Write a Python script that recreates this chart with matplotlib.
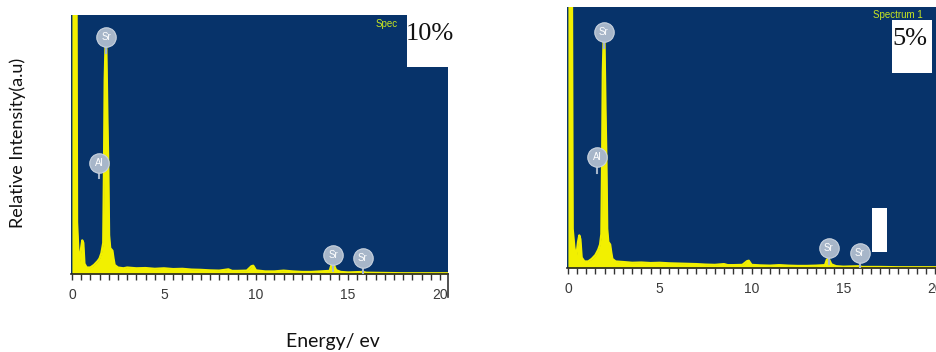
import matplotlib
matplotlib.use("Agg")
import matplotlib.pyplot as plt
from matplotlib.patches import Rectangle
from matplotlib.lines import Line2D

W, H = 937, 352

# ---------------- data ----------------
energy_10 = [0.0, 0.25, 0.28, 0.35, 0.42, 0.5, 0.56, 0.62, 0.68, 0.8, 1.0, 1.2, 1.4, 1.5,
             1.6, 1.7, 1.74, 1.78, 1.83, 1.87, 1.93, 1.98, 2.02, 2.08, 2.2, 2.26, 2.32,
             2.5, 2.8, 3.0, 3.5, 4.0, 4.5, 5.0, 5.5, 6.0, 6.5, 7.0, 7.5, 8.0, 8.5, 8.7,
             9.0, 9.5, 9.75, 9.85, 10.0, 10.5, 11.0, 11.5, 12.0, 12.5, 13.0, 13.5, 14.0,
             14.1, 14.2, 14.35, 14.6, 15.0, 15.8, 16.0, 17.0, 18.0, 19.0, 20.4]
counts_10 = [110, 110, 20, 9, 5, 10, 13, 12, 4, 2.5, 2.5, 3.5, 5, 6,
             8, 12, 40, 75, 90, 88, 60, 40, 15, 10, 9, 6, 3.5,
             2.5, 2.2, 2.5, 2.2, 2.3, 2.0, 2.2, 1.9, 2.0, 1.7, 1.6, 1.4, 1.3, 1.8, 1.2,
             1.2, 1.3, 3.0, 3.2, 1.4, 1.0, 1.0, 1.3, 1.0, 0.8, 0.8, 1.0, 1.2,
             3.5, 4.0, 1.5, 0.8, 0.6, 0.8, 0.5, 0.4, 0.3, 0.3, 0.3]

energy_5 = [0.0, 0.22, 0.26, 0.35, 0.45, 0.55, 0.62, 0.68, 0.75, 0.9, 1.1, 1.3, 1.5, 1.65,
            1.75, 1.82, 1.86, 1.9, 1.95, 1.99, 2.05, 2.1, 2.14, 2.2, 2.3, 2.36, 2.42,
            2.6, 3.0, 3.5, 4.0, 4.5, 5.0, 5.5, 6.0, 6.5, 7.0, 7.5, 8.0, 8.5, 8.7, 9.0,
            9.5, 9.75, 9.85, 10.0, 10.5, 11.0, 11.5, 12.0, 12.5, 13.0, 13.5, 14.0, 14.1,
            14.2, 14.35, 14.6, 15.0, 15.9, 16.0, 17.0, 18.0, 19.0, 20.2]
counts_5 = [110, 110, 15, 8, 4, 10, 12.5, 11, 4, 2.5, 2.5, 3.5, 5, 7,
            9, 13, 40, 75, 90, 88, 60, 40, 15, 10, 9, 6, 3.5,
            2.5, 2.3, 2.0, 2.1, 1.9, 2.0, 1.8, 1.7, 1.6, 1.5, 1.3, 1.2, 1.5, 1.1, 1.1,
            1.2, 2.6, 2.8, 1.2, 1.0, 0.9, 1.1, 0.9, 0.8, 0.8, 0.9, 1.1, 3.2,
            3.6, 1.4, 0.7, 0.5, 0.7, 0.4, 0.4, 0.3, 0.3, 0.3]

# element markers: (symbol, energy, height)
labels_10 = [("Sr", 1.85, 91.5), ("Al", 1.47, 43.0), ("Sr", 14.2, 7.3), ("Sr", 15.8, 6.2)]
labels_5 = [("Sr", 1.96, 90.4), ("Al", 1.58, 42.5), ("Sr", 14.2, 7.7), ("Sr", 15.9, 5.7)]

ticks = [0, 5, 10, 15, 20]
tick_labels = ["0", "5", "10", "15", "20"]
panel_tags = ["10%", "5%"]

# ---------------- styling ----------------
BLUE = "#07336a"
YEL = "#f2f000"
CIRC = "#a7b6c9"

fig = plt.figure(figsize=(W / 100, H / 100), dpi=100)


def fx(px):
    return px / W


def fy(py):
    return 1 - py / H


def axes_px(l, t, r, b):
    return [fx(l), fy(b), (r - l) / W, (b - t) / H]


def draw_panel(ax, E, C, labels, xmax):
    ax.set_facecolor(BLUE)
    ax.fill_between(E, 0, C, color=YEL, linewidth=0, zorder=2)
    ax.plot(E, C, color=YEL, linewidth=1.6, zorder=2)
    ax.set_xlim(-0.05, xmax)
    ax.set_ylim(0, 100)
    for s in ["left", "top", "right"]:
        ax.spines[s].set_visible(False)
    ax.spines["bottom"].set_color("#222222")
    ax.spines["bottom"].set_linewidth(1.2)
    ax.set_yticks([])
    ax.set_xticks(ticks)
    ax.set_xticklabels(tick_labels, fontsize=10, color="#3a3a3a",
                       family="Liberation Sans")
    ax.set_xticks([x * 0.5 for x in range(0, int(xmax * 2) + 1)], minor=True)
    ax.tick_params(axis="x", which="both", direction="out", length=4,
                   width=1, color="#333333", pad=6)
    for sym, e, h in labels:
        ax.plot([e, e], [h - 6, h - 1], color=CIRC, lw=1.5, zorder=3)
        ax.plot([e], [h], marker="o", markersize=14, color=CIRC,
                markeredgecolor="#c9d3df", markeredgewidth=0.8, zorder=4)
        ax.text(e, h, sym, color="white", fontsize=7, ha="center", va="center",
                family="Liberation Sans", zorder=5)


ax1 = fig.add_axes(axes_px(71, 15, 448, 274))
draw_panel(ax1, energy_10, counts_10, labels_10, 20.43)

ax2 = fig.add_axes(axes_px(567, 7, 937, 268))
draw_panel(ax2, energy_5, counts_5, labels_5, 20.1)

# right frame line of left panel
fig.add_artist(Line2D([fx(448), fx(448)], [fy(274), fy(297)], color="#333333",
                      lw=1.2, transform=fig.transFigure))

# "Spectrum 1" captions: left one partly hidden by the white box
fig.text(fx(376), fy(27), "Spec", color="#c8e620", fontsize=7,
         family="Liberation Sans", ha="left", va="baseline", zorder=5)
fig.text(fx(873), fy(18), "Spectrum 1", color="#c8e620", fontsize=7,
         family="Liberation Sans", ha="left", va="baseline", zorder=5)

# white boxes with percentages
fig.add_artist(Rectangle((fx(407), fy(67)), (448 - 407) / W, 67 / H,
                         transform=fig.transFigure, facecolor="white",
                         edgecolor="none", zorder=10))
fig.text(fx(406), fy(40), panel_tags[0], fontsize=19, family="Liberation Serif",
         ha="left", va="baseline", color="#111111", zorder=11)

fig.add_artist(Rectangle((fx(892), fy(73)), (932 - 892) / W, (73 - 20) / H,
                         transform=fig.transFigure, facecolor="white",
                         edgecolor="none", zorder=10))
fig.text(fx(892), fy(45), panel_tags[1], fontsize=19, family="Liberation Serif",
         ha="left", va="baseline", color="#111111", zorder=11)

fig.add_artist(Rectangle((fx(872), fy(252)), (887 - 872) / W, (252 - 208) / H,
                         transform=fig.transFigure, facecolor="white",
                         edgecolor="none", zorder=10))

# axis titles
fig.text(fx(18), fy(143), "Relative Intensity(a.u)", rotation=90, fontsize=13,
         family="Lato", ha="center", va="center", color="#111111")
fig.text(fx(333), fy(341), "Energy/ ev", fontsize=14, family="Lato",
         ha="center", va="center", color="#111111")

fig.savefig("out.png", dpi=100)
